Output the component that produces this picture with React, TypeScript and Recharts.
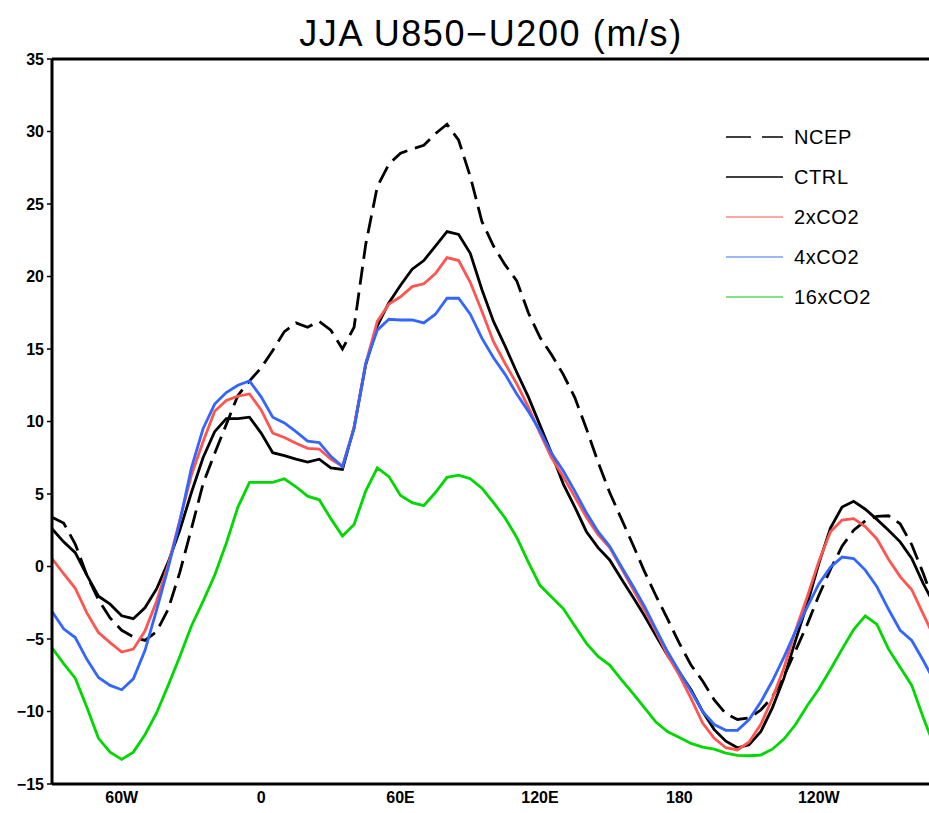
import { LineChart, Line, XAxis, YAxis, ReferenceLine } from "recharts";

// longitude, every 5 degrees (negative = west)
const lon = [
  -90, -85, -80, -75, -70, -65, -60, -55, -50, -45, -40, -35, -30, -25, -20, -15, -10, -5, 0, 5,
  10, 15, 20, 25, 30, 35, 40, 45, 50, 55, 60, 65, 70, 75, 80, 85, 90,
  95, 100, 105, 110, 115, 120, 125, 130, 135, 140, 145, 150, 155, 160, 165, 170, 175, 180,
  185, 190, 195, 200, 205, 210, 215, 220, 225, 230, 235, 240, 245, 250, 255, 260, 265, 270, 275, 280, 285, 290,
];

const ncep = [
  3.4, 3.0, 1.55, -0.6, -2.3, -3.55, -4.4, -4.85, -5.1, -4.5, -2.95, -0.4, 2.6, 5.7, 7.8, 9.8, 11.8, 12.8, 13.7, 14.9,
  16.2, 16.8, 16.5, 16.9, 16.3, 15.0, 16.5, 22.2, 26.2, 27.75, 28.5, 28.8, 29.05, 29.85, 30.5, 29.4, 26.9,
  23.8, 22.1, 20.8, 19.7, 17.5, 15.8, 14.6, 13.25, 11.65, 9.5, 7.2, 5.1, 3.3, 1.5, -0.35, -2.05, -3.65, -5.3,
  -6.8, -7.9, -9.2, -10.15, -10.55, -10.45, -9.9, -9.0, -7.55, -5.8, -4.0, -2.0, -0.2, 1.4, 2.5, 3.15, 3.45, 3.5, 2.95, 1.5, -0.5, -2.7,
];

const ctrl = [
  2.6, 1.7, 0.95, -0.6, -2.05, -2.6, -3.4, -3.6, -2.85, -1.55, 0.3, 2.5, 5.1, 7.5, 9.3, 10.2, 10.2, 10.3, 9.2, 7.85,
  7.65, 7.4, 7.2, 7.4, 6.8, 6.7, 9.6, 13.9, 16.6, 18.2, 19.4, 20.5, 21.1, 22.1, 23.1, 22.9, 21.6,
  19.1, 16.9, 15.2, 13.4, 11.7, 9.75, 7.8, 5.7, 4.1, 2.4, 1.3, 0.45, -0.85, -2.1, -3.4, -4.8, -6.15, -7.3,
  -8.5, -10.0, -11.25, -12.05, -12.5, -12.3, -11.4, -9.75, -7.7, -5.1, -2.6, 0.2, 2.65, 4.1, 4.5, 3.95, 3.25, 2.5, 1.7, 0.55, -1.2, -2.7,
];

const co2x2 = [
  0.55, -0.5, -1.5, -3.2, -4.55, -5.25, -5.9, -5.7, -4.45, -2.4, 0.1, 3.2, 6.3, 8.6, 10.7, 11.45, 11.75, 11.9, 10.8, 9.2,
  8.9, 8.5, 8.15, 8.1, 7.4, 6.9, 9.6, 14.0, 16.9, 18.1, 18.6, 19.3, 19.5, 20.2, 21.3, 21.1, 19.6,
  17.6, 15.5, 14.0, 12.6, 11.0, 9.2, 7.5, 6.2, 4.8, 3.4, 2.2, 1.3, -0.1, -1.55, -3.0, -4.5, -6.15, -7.5,
  -9.1, -10.8, -11.85, -12.5, -12.65, -12.1, -10.9, -9.1, -7.0, -4.4, -2.1, 0.35, 2.4, 3.2, 3.3, 2.75, 1.9, 0.5, -0.7, -1.6, -3.3, -5.0,
];

const co2x4 = [
  -3.1, -4.3, -4.9, -6.4, -7.65, -8.2, -8.5, -7.75, -5.8, -3.0, -0.1, 3.1, 6.8, 9.5, 11.2, 12.0, 12.5, 12.8, 11.7, 10.3,
  9.9, 9.3, 8.65, 8.55, 7.6, 6.9, 9.5, 14.0, 16.3, 17.05, 17.0, 17.0, 16.8, 17.4, 18.5, 18.5, 17.4,
  15.75, 14.4, 13.25, 11.9, 10.7, 9.35, 7.8, 6.6, 5.2, 3.7, 2.4, 1.4, 0.0, -1.35, -2.75, -4.35, -5.9, -7.25,
  -8.6, -10.0, -10.9, -11.3, -11.3, -10.55, -9.35, -7.9, -6.25, -4.45, -2.8, -1.2, -0.05, 0.65, 0.55, -0.25, -1.4, -2.95, -4.4, -5.1, -6.5, -8.0,
];

const co2x16 = [
  -5.6, -6.7, -7.7, -9.7, -11.85, -12.8, -13.3, -12.8, -11.6, -10.1, -8.2, -6.2, -4.1, -2.4, -0.6, 1.6, 4.1, 5.8, 5.8, 5.8,
  6.05, 5.5, 4.85, 4.6, 3.3, 2.1, 2.9, 5.2, 6.8, 6.2, 4.9, 4.4, 4.2, 5.1, 6.15, 6.3, 6.05,
  5.4, 4.4, 3.35, 2.0, 0.3, -1.3, -2.1, -2.9, -4.1, -5.3, -6.2, -6.8, -7.8, -8.75, -9.75, -10.75, -11.4, -11.8,
  -12.2, -12.45, -12.6, -12.87, -13.02, -13.05, -13.0, -12.6, -11.9, -10.9, -9.6, -8.45, -7.1, -5.7, -4.35, -3.4, -4.0, -5.7, -6.95, -8.2, -10.45, -12.5,
];

const yTicks = [-15, -10, -5, 0, 5, 10, 15, 20, 25, 30, 35];
const xTicks = [-60, 0, 60, 120, 180, 240];

const series = [
  { key: "ncep", name: "NCEP", values: ncep, color: "#000000", legendColor: "#000000", dash: "18 8" },
  { key: "ctrl", name: "CTRL", values: ctrl, color: "#000000", legendColor: "#000000", dash: undefined },
  { key: "x2", name: "2xCO2", values: co2x2, color: "#ff5550", legendColor: "#ff8a86", dash: undefined },
  { key: "x4", name: "4xCO2", values: co2x4, color: "#3366ff", legendColor: "#7a9cff", dash: undefined },
  { key: "x16", name: "16xCO2", values: co2x16, color: "#00d800", legendColor: "#5ad85a", dash: undefined },
];

const data = lon.map((x, i) => {
  const row: Record<string, number> = { lon: x };
  series.forEach((s) => {
    row[s.key] = s.values[i];
  });
  return row;
});

const lonLabel = (v: number) => {
  if (v === 0 || v === 180) return `${v}`;
  if (v < 0) return `${-v}W`;
  if (v > 180) return `${360 - v}W`;
  return `${v}E`;
};

const valLabel = (v: number) => (v < 0 ? `\u2212${-v}` : `${v}`);

const FONT = "'Liberation Sans', Arial, Helvetica, sans-serif";
const tickStyle = { fill: "#000", fontSize: 16, fontWeight: 700, fontFamily: FONT };

export default function App() {
  return (
    <div
      style={{
        position: "absolute",
        left: 0,
        top: 0,
        width: 929,
        height: 813,
        overflow: "hidden",
        background: "#fff",
        fontFamily: FONT,
      }}
    >
      <LineChart
        width={960}
        height={813}
        data={data}
        margin={{ top: 59, right: 25, bottom: 4, left: 12 }}
      >
        <XAxis
          dataKey="lon"
          type="number"
          domain={[-90, 290]}
          ticks={xTicks}
          interval={0}
          tickFormatter={lonLabel}
          height={25}
          tickLine={false}
          tickSize={6}
          tickMargin={2}
          fontSize={16}
          axisLine={{ stroke: "#000", strokeWidth: 3 }}
          tick={tickStyle}
        />
        <YAxis
          type="number"
          domain={[-15, 35]}
          ticks={yTicks}
          interval={0}
          tickFormatter={valLabel}
          width={40}
          tickSize={5}
          tickMargin={3}
          fontSize={16}
          axisLine={{ stroke: "#000", strokeWidth: 3 }}
          tickLine={{ stroke: "#000", strokeWidth: 1.5 }}
          tick={tickStyle}
        />
        <ReferenceLine y={35} stroke="#000" strokeWidth={3} />
        {series.map((s) => (
          <Line
            key={s.key}
            dataKey={s.key}
            name={s.name}
            type="linear"
            stroke={s.color}
            strokeWidth={2.8}
            strokeDasharray={s.dash}
            dot={false}
            activeDot={false}
            isAnimationActive={false}
          />
        ))}
      </LineChart>

      <svg
        width={929}
        height={813}
        style={{ position: "absolute", left: 0, top: 0, pointerEvents: "none" }}
      >
        <text
          x={491}
          y={46}
          textAnchor="middle"
          fontSize={36}
          letterSpacing={1.6}
          fontFamily={FONT}
          fill="#000"
        >
          JJA U850{"\u2212"}U200 (m/s)
        </text>
        {series.map((s, i) => {
          const y = 137 + i * 40;
          return (
            <g key={s.key}>
              {s.dash ? (
                <>
                  <line x1={726} x2={751} y1={y} y2={y} stroke={s.legendColor} strokeWidth={1.5} />
                  <line x1={762} x2={783} y1={y} y2={y} stroke={s.legendColor} strokeWidth={1.5} />
                </>
              ) : (
                <line x1={726} x2={783} y1={y} y2={y} stroke={s.legendColor} strokeWidth={1.5} />
              )}
              <text x={794} y={y + 7} fontSize={20} letterSpacing={0.6} fontFamily={FONT} fill="#000">
                {s.name}
              </text>
            </g>
          );
        })}
      </svg>
    </div>
  );
}
